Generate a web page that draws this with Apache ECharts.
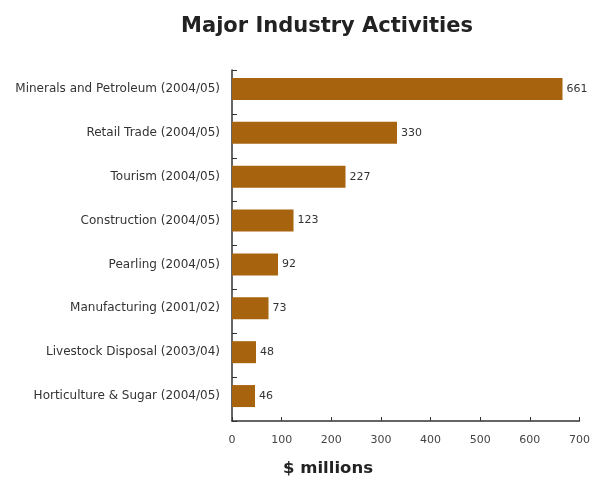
<!DOCTYPE html>
<html><head><meta charset="utf-8">
<script src="https://cdn.jsdelivr.net/npm/echarts@6/dist/echarts.min.js"></script>
<style>html,body{margin:0;padding:0;background:#fff}#c{width:593px;height:480px}</style>
</head><body><div id="c"></div>
<script>
const categories = ["Minerals and Petroleum (2004/05)","Retail Trade (2004/05)","Tourism (2004/05)","Construction (2004/05)","Pearling (2004/05)","Manufacturing (2001/02)","Livestock Disposal (2003/04)","Horticulture & Sugar (2004/05)"];
const values = [661,330,227,123,92,73,48,46];
const xTicks = [0,100,200,300,400,500,600,700];
const chart = echarts.init(document.getElementById('c'));
const xBase = {type:'value',min:xTicks[0],max:xTicks[xTicks.length-1],interval:100,splitLine:{show:false}};
chart.setOption({
  animation:false,
  title:[
    {text:'Major Industry Activities',left:322,top:11,textAlign:'center',textStyle:{fontFamily:'DejaVu Sans',fontWeight:'bold',fontSize:21,color:'#222'}},
    {text:'$ millions',left:323,top:455,textAlign:'center',textStyle:{fontFamily:'DejaVu Sans',fontWeight:'bold',fontSize:16.5,color:'#222'}}
  ],
  grid:[
    {left:232,right:11,top:70,bottom:59,containLabel:false},
    {left:232,right:11,top:67,bottom:62,containLabel:false}
  ],
  xAxis:[
    Object.assign({},xBase,{gridIndex:0,
      axisLine:{show:true,lineStyle:{color:'#333',width:1.5}},
      axisTick:{show:true,inside:true,length:4,lineStyle:{color:'#333'}},
      axisLabel:{margin:14,fontFamily:'DejaVu Sans',fontSize:11,color:'#444'}}),
    Object.assign({},xBase,{gridIndex:1,show:false})
  ],
  yAxis:[
    {type:'category',gridIndex:0,data:categories,inverse:true,
      axisLine:{show:true,lineStyle:{color:'#333',width:1.5}},
      axisTick:{show:true,inside:true,length:5,lineStyle:{color:'#333'}},
      axisLabel:{show:false}},
    {type:'category',gridIndex:1,data:categories,inverse:true,
      axisLine:{show:false},axisTick:{show:false},
      axisLabel:{margin:12,fontFamily:'DejaVu Sans',fontSize:12,color:'#333'}}
  ],
  series:[{type:'bar',xAxisIndex:1,yAxisIndex:1,data:values,barWidth:22,itemStyle:{color:'#a8630f'},
    label:{show:true,position:'right',distance:4,fontFamily:'DejaVu Sans',fontSize:11,color:'#333'}}]
});
</script></body></html>
